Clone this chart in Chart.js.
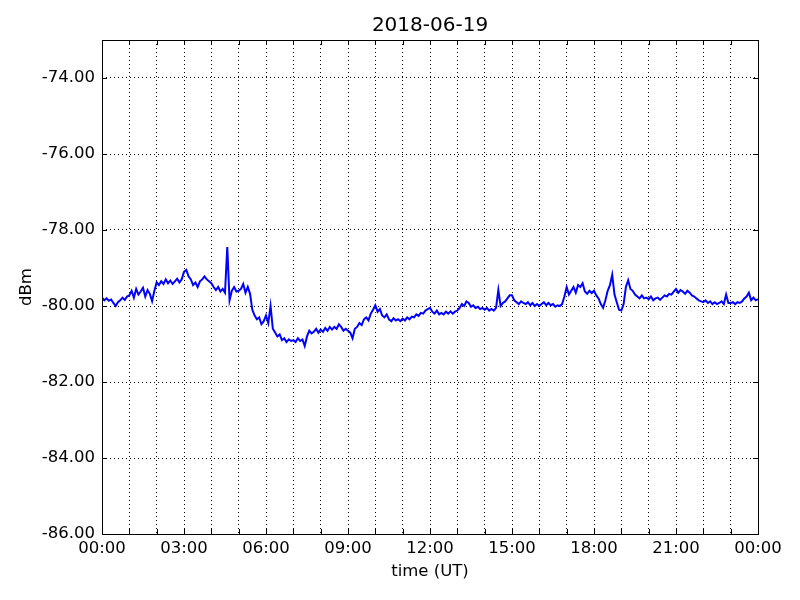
<!DOCTYPE html>
<html>
<head>
<meta charset="utf-8">
<script src="https://cdn.jsdelivr.net/npm/chart.js@4"></script>
<style>
  html, body { margin: 0; padding: 0; background: #fff; }
  #wrap { width: 800px; height: 600px; }
</style>
</head>
<body>
<div id="wrap"><canvas id="chartCanvas" width="800" height="600"></canvas></div>
<script>
// valores, uno cada 5 minutos (una fila por hora)
const valores = [
  -79.78, -79.85, -79.80, -79.86, -79.83, -79.92, -80.00, -79.90, -79.85, -79.78, -79.84, -79.75,
  -79.72, -79.60, -79.78, -79.55, -79.70, -79.62, -79.52, -79.75, -79.58, -79.68, -79.87, -79.60,
  -79.38, -79.45, -79.35, -79.42, -79.30, -79.40, -79.33, -79.42, -79.35, -79.28, -79.38, -79.30,
  -79.10, -79.05, -79.22, -79.30, -79.45, -79.38, -79.50, -79.35, -79.30, -79.22, -79.30, -79.35,
  -79.40, -79.50, -79.58, -79.50, -79.62, -79.55, -79.65, -78.45, -79.85, -79.60, -79.50, -79.62,
  -79.60, -79.55, -79.42, -79.65, -79.50, -79.68, -80.10, -80.25, -80.35, -80.30, -80.48, -80.40,
  -80.25, -80.45, -80.00, -80.60, -80.70, -80.80, -80.75, -80.90, -80.85, -80.95, -80.88, -80.92,
  -80.90, -80.95, -80.85, -80.92, -80.88, -81.05, -80.80, -80.65, -80.72, -80.68, -80.60, -80.70,
  -80.62, -80.68, -80.58, -80.65, -80.55, -80.62, -80.55, -80.60, -80.48, -80.55, -80.65, -80.60,
  -80.65, -80.70, -80.85, -80.60, -80.55, -80.45, -80.50, -80.35, -80.30, -80.38, -80.20, -80.10,
  -79.98, -80.15, -80.08, -80.25, -80.30, -80.22, -80.35, -80.40, -80.32, -80.38, -80.35, -80.40,
  -80.33, -80.38, -80.30, -80.35, -80.28, -80.30, -80.22, -80.26, -80.18, -80.20, -80.12, -80.08,
  -80.05, -80.15, -80.20, -80.12, -80.22, -80.18, -80.22, -80.15, -80.20, -80.14, -80.20, -80.15,
  -80.12, -80.05, -79.95, -80.00, -79.88, -79.92, -80.02, -79.98, -80.05, -80.02, -80.08, -80.05,
  -80.10, -80.05, -80.12, -80.08, -80.12, -80.05, -79.58, -80.00, -79.92, -79.88, -79.80, -79.72,
  -79.72, -79.85, -79.90, -79.95, -79.88, -79.92, -79.95, -79.90, -79.98, -79.92, -80.00, -79.95,
  -80.00, -79.95, -79.90, -79.98, -79.92, -79.98, -79.95, -80.02, -79.98, -80.00, -79.95, -79.75,
  -79.50, -79.70, -79.60, -79.50, -79.65, -79.45, -79.50, -79.40, -79.62, -79.68, -79.60, -79.66,
  -79.60, -79.72, -79.80, -79.95, -80.05, -79.85, -79.60, -79.45, -79.18, -79.70, -79.90, -80.10,
  -80.12, -79.95, -79.50, -79.32, -79.55, -79.60, -79.70, -79.75, -79.80, -79.72, -79.80, -79.78,
  -79.82, -79.75, -79.85, -79.80, -79.78, -79.84, -79.78, -79.72, -79.75, -79.68, -79.70, -79.62,
  -79.55, -79.65, -79.58, -79.62, -79.68, -79.60, -79.65, -79.72, -79.75, -79.80, -79.85, -79.88,
  -79.90, -79.85, -79.92, -79.88, -79.95, -79.90, -79.95, -79.92, -79.88, -79.95, -79.70, -79.92,
  -79.92, -79.90, -79.95, -79.90, -79.92, -79.88, -79.80, -79.75, -79.65, -79.85, -79.78, -79.85,
  -79.82
];
const pasoMinutos = 5;

const ticksX = [0, 1, 2, 3, 4, 5, 6, 7, 8, 9, 10, 11, 12, 13, 14, 15, 16, 17, 18, 19, 20, 21, 22, 23, 24];
const etiquetasX = ['00:00', '03:00', '06:00', '09:00', '12:00', '15:00', '18:00', '21:00', '00:00'];
const ticksY = [-86, -84, -82, -80, -78, -76, -74];

const titulo = '2018-06-19';
const tituloX = 'time (UT)';
const tituloY = 'dBm';

const puntos = valores.map((v, i) => ({ x: i * pasoMinutos / 60, y: v }));

const fuente = 'DejaVu Sans';

// marcas de ticks hacia adentro en los cuatro lados, y marco negro
const marcoPlugin = {
  id: 'marco',
  afterDraw(c) {
    const ctx = c.ctx;
    const a = c.chartArea;
    const sx = c.scales.x, sy = c.scales.y;
    const largo = 5;
    ctx.save();
    ctx.strokeStyle = '#000';
    ctx.lineWidth = 1;
    ctx.beginPath();
    ticksX.forEach(t => {
      const px = Math.round(sx.getPixelForValue(t)) + 0.5;
      ctx.moveTo(px, a.bottom); ctx.lineTo(px, a.bottom - largo);
      ctx.moveTo(px, a.top); ctx.lineTo(px, a.top + largo);
    });
    ticksY.forEach(t => {
      const py = Math.round(sy.getPixelForValue(t)) + 0.5;
      ctx.moveTo(a.left, py); ctx.lineTo(a.left + largo, py);
      ctx.moveTo(a.right, py); ctx.lineTo(a.right - largo, py);
    });
    ctx.stroke();
    ctx.strokeRect(Math.round(a.left) + 0.5, Math.round(a.top) + 0.5,
      Math.round(a.right - a.left), Math.round(a.bottom - a.top));
    ctx.restore();
  }
};

const ctx = document.getElementById('chartCanvas').getContext('2d');
new Chart(ctx, {
  type: 'line',
  data: {
    datasets: [{
      data: puntos,
      borderColor: '#0000ff',
      borderWidth: 2,
      pointRadius: 0,
      tension: 0,
      fill: false
    }]
  },
  options: {
    responsive: false,
    animation: false,
    layout: { padding: { left: 0, right: 42, top: 0, bottom: 0 } },
    plugins: {
      legend: { display: false },
      tooltip: { enabled: false },
      title: { display: false }
    },
    scales: {
      // eje superior solo para centrar el título sobre el área del gráfico
      arriba: {
        type: 'linear',
        position: 'top',
        min: 0,
        max: 24,
        afterFit: s => { s.height = 40; },
        ticks: { display: false },
        grid: { display: false, drawTicks: false },
        border: { display: false },
        title: {
          display: true,
          text: titulo,
          color: '#000',
          font: { family: fuente, size: 20, weight: 'normal', lineHeight: 1.2 },
          padding: { top: 14, bottom: 0 }
        }
      },
      x: {
        type: 'linear',
        min: 0,
        max: 24,
        afterBuildTicks: s => { s.ticks = ticksX.map(v => ({ value: v })); },
        afterFit: s => { s.height = 66; },
        ticks: {
          autoSkip: false,
          maxRotation: 0,
          padding: 5,
          color: '#000',
          font: { family: fuente, size: 16.5 },
          callback: v => (v % 3 === 0 ? etiquetasX[v / 3] : '')
        },
        grid: { color: '#000', lineWidth: 1, drawTicks: false },
        border: { display: false, dash: [1, 3] },
        title: {
          display: true,
          text: tituloX,
          color: '#000',
          font: { family: fuente, size: 16.5 },
          padding: { top: 0, bottom: 18 }
        }
      },
      y: {
        type: 'linear',
        min: -86,
        max: -73,
        afterBuildTicks: s => { s.ticks = ticksY.map(v => ({ value: v })); },
        afterFit: s => { s.width = 102; },
        ticks: {
          padding: 7,
          color: '#000',
          font: { family: fuente, size: 16.5 },
          callback: v => v.toFixed(2)
        },
        grid: { color: '#000', lineWidth: 1, drawTicks: false },
        border: { display: false, dash: [1, 3] },
        title: {
          display: true,
          text: tituloY,
          color: '#000',
          font: { family: fuente, size: 16.5 },
          padding: { top: 17, bottom: 0 }
        }
      }
    }
  },
  plugins: [marcoPlugin]
});
</script>
</body>
</html>
